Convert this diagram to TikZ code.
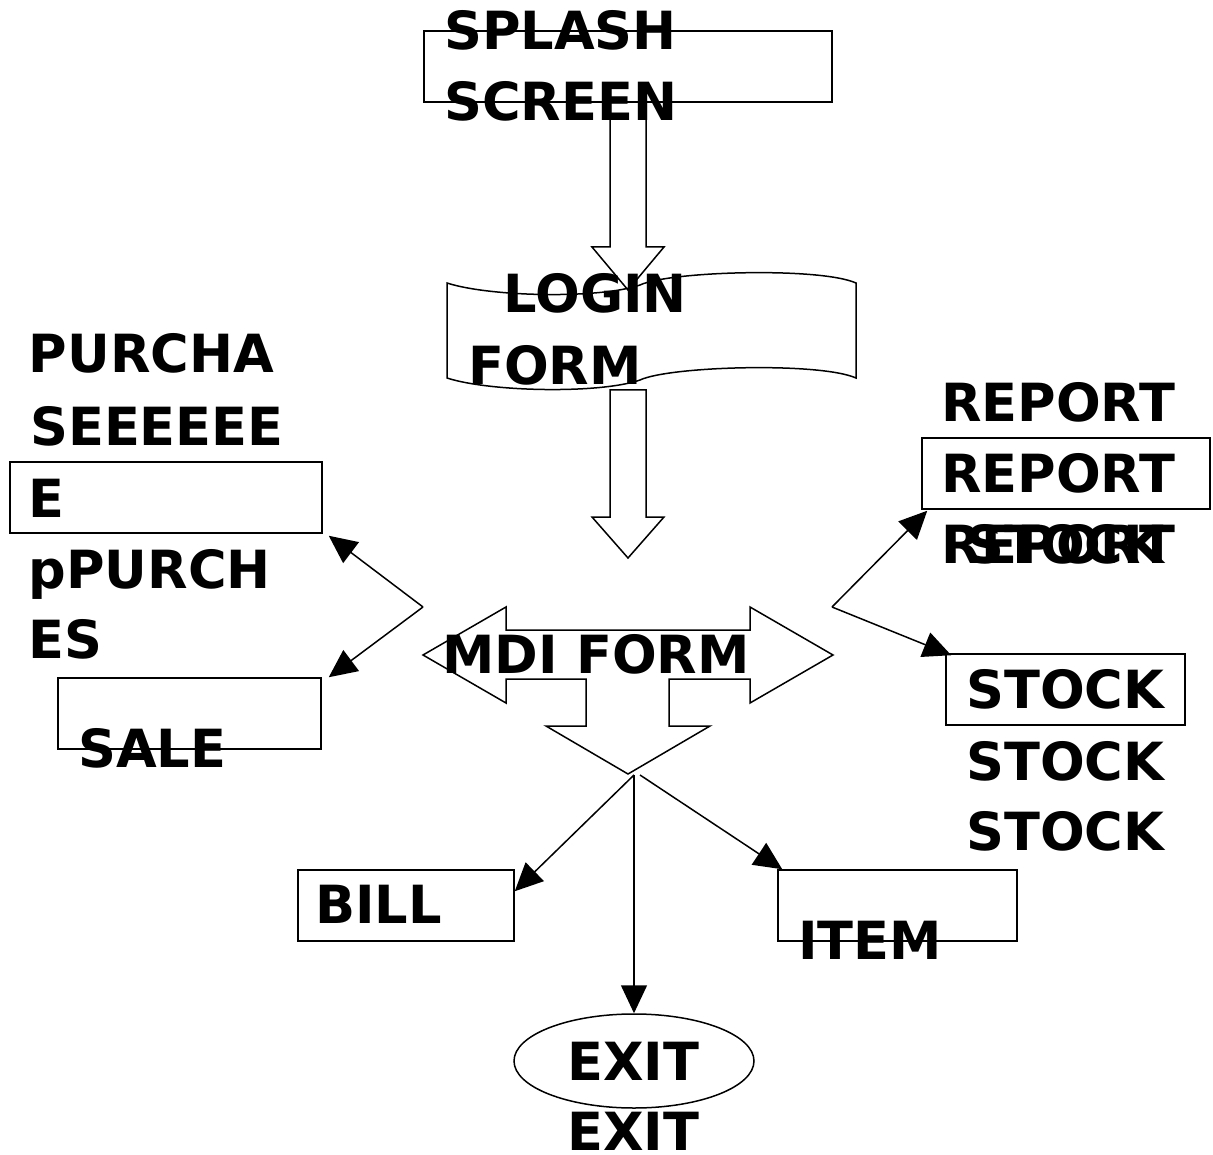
\documentclass[tikz,border=0pt]{standalone}
\usepackage{fontspec}
\setmainfont{DejaVu Sans}
\usetikzlibrary{arrows.meta,shapes.geometric,calc}
\begin{document}
\begin{tikzpicture}[x=1pt,y=-1pt,line width=1.5pt,
  lbl/.style={anchor=base west,inner sep=0pt,font=\fontsize{52.6}{62}\bfseries\selectfont},
  box/.style={draw,rectangle,inner sep=0pt,line width=1.5pt,minimum height=71pt},
  arr/.style={-{Triangle[length=28pt,width=26pt]},line width=1.5pt},
  blk/.style={draw,line width=1.5pt,line join=miter}]
\useasboundingbox (0,0) rectangle (1213,1155);

% boxes
\node[box,minimum width=408pt] (splash) at (628,66.5) {};
\node[box,minimum width=312pt] (purch) at (166,497.5) {};
\node[box,minimum width=263pt] (sale) at (189.5,713.5) {};
\node[box,minimum width=288pt] (report) at (1066,473.5) {};
\node[box,minimum width=239pt] (stock) at (1065.5,689.5) {};
\node[box,minimum width=216pt] (bill) at (406,905.5) {};
\node[box,minimum width=239pt] (item) at (897.5,905.5) {};
\node[draw,ellipse,inner sep=0pt,minimum width=240pt,minimum height=94pt,line width=1.5pt] (exit) at (634,1061) {};

% login form (tape shape)
\draw[blk] (447,283) .. controls (490,297) and (600,299) .. (640,285)
  .. controls (670,271) and (820,267) .. (856,283) -- (856,378)
  .. controls (820,362) and (670,366) .. (640,380)
  .. controls (600,394) and (490,392) .. (447,378) -- cycle;

% block arrows
\draw[blk] (610,102) -- (610,247) -- (592,247) -- (628,290) -- (664,247) -- (646,247) -- (646,102);
\draw[blk] (610,390) -- (610,517) -- (592,517) -- (628,558) -- (664,517) -- (646,517) -- (646,390) -- cycle;

% MDI form shape
\draw[blk] (423,655) -- (506,607) -- (506,630) -- (750,630) -- (750,607) -- (833,655)
  -- (750,703) -- (750,679) -- (669,679) -- (669,726) -- (710,726) -- (628,774)
  -- (546,726) -- (586,726) -- (586,679) -- (506,679) -- (506,703) -- cycle;

% connectors
\coordinate (lj) at (423,607);
\coordinate (rj) at (832,607);
\coordinate (bj) at (634,775);
\coordinate (bj2) at (640,775);
\draw[arr] (lj) -- ($(purch.south east)+(6,2)$);
\draw[arr] (lj) -- ($(sale.north east)+(7,0)$);
\draw[arr] (rj) -- ($(report.south west)+(6,1)$);
\draw[arr] (rj) -- ($(stock.north west)+(6,2)$);
\draw[arr] (bj) -- ($(bill.north east)+(0,22)$);
\draw[arr] (bj) -- (exit.north);
\draw[arr] (bj2) -- ($(item.north west)+(5,0)$);

% texts
\node[lbl] (t1) at (443.5,50) {SPLASH};
\node[lbl] (t2) at (443.5,121) {SCREEN};
\node[lbl] (t3) at (503,313) {LOGIN};
\node[lbl] (t4) at (467.5,385) {FORM};
\node[lbl] (t5) at (441.5,673) {MDI FORM};
\node[lbl] (p1) at (28,373) {PURCHA};
\node[lbl] (p2) at (29.5,446) {SEEEEEE};
\node[lbl] (p3) at (28,517) {E};
\node[lbl] (p4) at (28,588) {pPURCH};
\node[lbl] (p5) at (28,658) {ES};
\node[lbl] (s1) at (77.5,767) {SALE};
\node[lbl] (r1) at (940.5,422) {REPORT};
\node[lbl] (r2) at (940.5,492) {REPORT};
\node[lbl] (r3) at (940.5,563) {REPORT};
\node[lbl] (k0) at (965.5,563) {STOCK};
\node[lbl] (k1) at (965.5,708) {STOCK};
\node[lbl] (k2) at (965.5,780) {STOCK};
\node[lbl] (k3) at (965.5,850) {STOCK};
\node[lbl] (b1) at (314.5,923) {BILL};
\node[lbl] (i1) at (797.5,959) {ITEM};
\node[lbl] (e1) at (566.5,1080) {EXIT};
\node[lbl] (e2) at (566.5,1150) {EXIT};
\end{tikzpicture}
\end{document}
